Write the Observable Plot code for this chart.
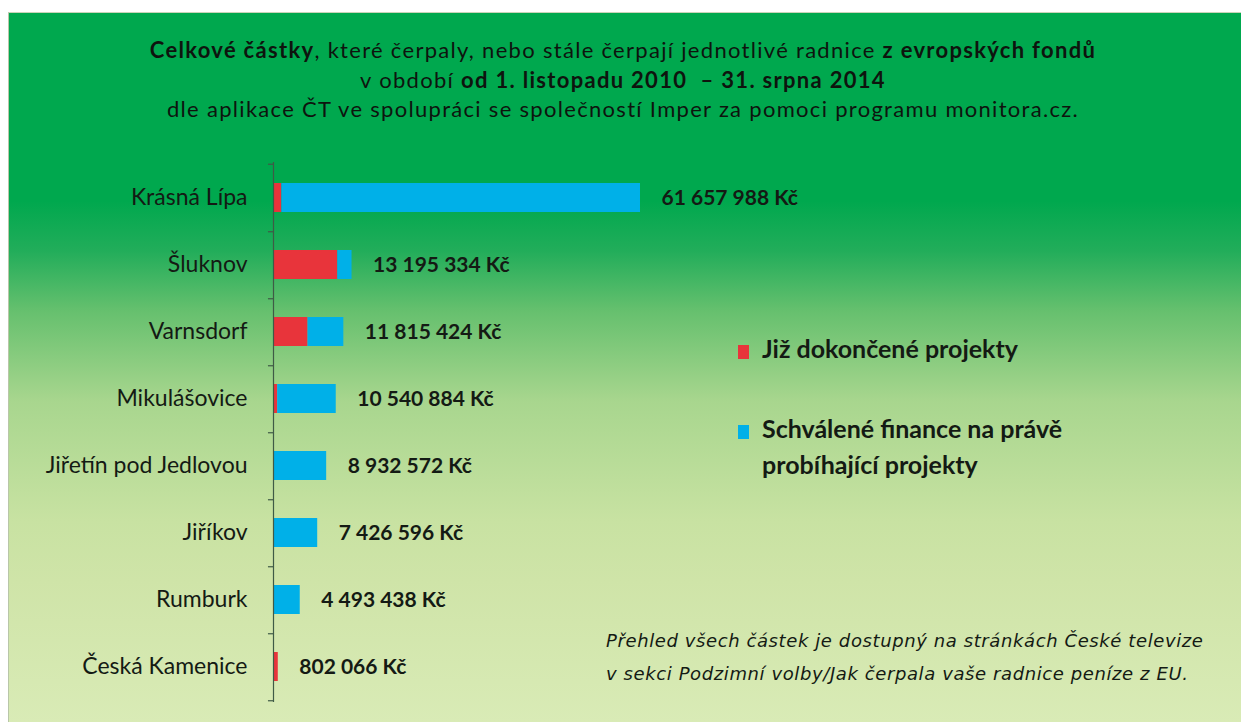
<!DOCTYPE html>
<html>
<head>
<meta charset="utf-8">
<script src="https://cdn.jsdelivr.net/npm/d3@7"></script>
<script src="https://cdn.jsdelivr.net/npm/@observablehq/plot@0.6"></script>
<style>
  html, body { margin: 0; padding: 0; background: #fff; }
  #wrap { position: relative; width: 1246px; height: 722px; overflow: hidden; font-family: Lato, "Open Sans", sans-serif; color: #111; }
  #panel { position: absolute; left: 8px; top: 12px; width: 1232px; height: 710px;
    border-left: 1px solid #b9c7a8; border-top: 1px solid #c9d4b8;
    background: linear-gradient(to bottom, #00a84e 0px, #00a84e 188px, #22ad5a 238px, #66c06e 298px, #a8d68e 388px, #c8e2a2 508px, #cfe4a8 568px, #d9ebb6 710px); }
  #title { position: absolute; left: 0; top: 35px; width: 1246px; text-align: center; font-size: 22px; letter-spacing: 1.3px; line-height: 29.5px; color: #0e140e; }
  #title b { font-weight: 700; }
  #chart { position: absolute; left: 0; top: 150px; }
  .leg { position: absolute; left: 738px; font-size: 25px; font-weight: 700; line-height: 36px; color: #141a14; }
  .sw { display: inline-block; width: 11px; height: 14px; margin-right: 13px; vertical-align: -1px; }
  #foot { position: absolute; left: 606px; top: 624px; font-family: "DejaVu Sans", sans-serif; font-size: 18px; letter-spacing: 0.6px; font-style: italic; line-height: 33px; color: #141a14; }
</style>
</head>
<body>
<div id="wrap">
  <div id="panel"></div>
  <div id="title">
    <div><b>Celkové částky</b>, které čerpaly, nebo stále čerpají jednotlivé radnice <b>z evropských fondů</b></div>
    <div>v období <b>od 1. listopadu 2010 &nbsp;– 31. srpna 2014</b></div>
    <div>dle aplikace ČT ve spolupráci se společností Imper za pomoci programu monitora.cz.</div>
  </div>
  <div id="chart"></div>
  <div class="leg" style="top:330px"><span class="sw" style="background:#e8343b"></span>Již dokončené projekty</div>
  <div class="leg" style="top:410px"><span class="sw" style="background:#00b0e8"></span>Schválené finance na právě<br><span style="padding-left:24px">probíhající projekty</span></div>
  <div id="foot">Přehled všech částek je dostupný na stránkách České televize<br>v sekci Podzimní volby/Jak čerpala vaše radnice peníze z EU.</div>
</div>
<script>
const cities = ["Krásná Lípa", "Šluknov", "Varnsdorf", "Mikulášovice", "Jiřetín pod Jedlovou", "Jiříkov", "Rumburk", "Česká Kamenice"];
const completed = [1400000, 10800000, 5800000, 700000, 0, 0, 0, 802066];
const ongoing = [60257988, 2395334, 6015424, 9840884, 8932572, 7426596, 4493438, 0];
const totals = [61657988, 13195334, 11815424, 10540884, 8932572, 7426596, 4493438, 802066];
const totalLabels = ["61 657 988 Kč", "13 195 334 Kč", "11 815 424 Kč", "10 540 884 Kč", "8 932 572 Kč", "7 426 596 Kč", "4 493 438 Kč", "802 066 Kč"];
const seriesNames = ["Již dokončené projekty", "Schválené finance na právě probíhající projekty"];
const seriesColors = ["#e8343b", "#00b0e8"];

const rows = [];
cities.forEach((c, i) => {
  rows.push({city: c, series: seriesNames[0], value: completed[i]});
  rows.push({city: c, series: seriesNames[1], value: ongoing[i]});
});
const labels = cities.map((c, i) => ({city: c, total: totals[i], label: totalLabels[i]}));

const chart = Plot.plot({
  width: 1246,
  height: 560,
  marginLeft: 273,
  marginRight: 606,
  marginTop: 12,
  marginBottom: 8,
  style: {background: "transparent", fontFamily: "Lato, 'Open Sans', sans-serif", color: "#111"},
  x: {domain: [0, 61657988], axis: null},
  y: {domain: cities, paddingInner: 0.56, paddingOuter: 0.28, label: null},
  color: {domain: seriesNames, range: seriesColors},
  marks: [
    Plot.barX(rows, Plot.stackX({y: "city", x: "value", fill: "series", order: seriesNames})),
    Plot.ruleX([0], {stroke: "#3f5a46", strokeWidth: 1.2}),
    Plot.ruleY(cities, {y: d => d, x1: -850000, x2: 0, dy: 33.75, stroke: "#3f5a46", strokeWidth: 1.2}),
    Plot.ruleY(cities.slice(0, 1), {y: d => d, x1: -850000, x2: 0, dy: -33.75, stroke: "#3f5a46", strokeWidth: 1.2}),
    Plot.text(labels, {y: "city", x: "total", text: "label", dx: 21, textAnchor: "start", fontSize: 21, fontWeight: 700, fill: "#141a14"}),
    Plot.axisY({tickSize: 0, tickPadding: 26, fontSize: 23, fill: "#141a14"})
  ]
});
document.getElementById("chart").appendChild(chart);
</script>
</body>
</html>
